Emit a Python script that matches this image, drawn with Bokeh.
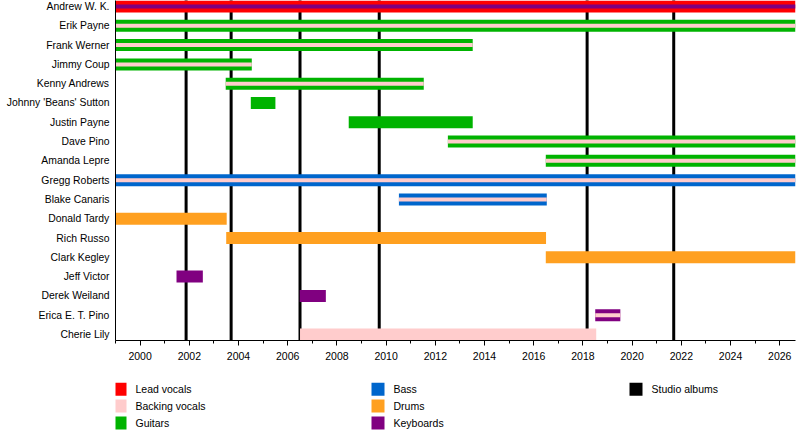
from bokeh.plotting import figure
from bokeh.models import Range1d, FixedTicker, SingleIntervalTicker
from bokeh.layouts import column
from bokeh.embed import file_html
from bokeh.resources import INLINE
from bokeh.core.properties import value

# ---------------- data ----------------
members = ["Andrew W. K.", "Erik Payne", "Frank Werner", "Jimmy Coup", "Kenny Andrews",
           "Johnny 'Beans' Sutton", "Justin Payne", "Dave Pino", "Amanda Lepre",
           "Gregg Roberts", "Blake Canaris", "Donald Tardy", "Rich Russo", "Clark Kegley",
           "Jeff Victor", "Derek Weiland", "Erica E. T. Pino", "Cherie Lily"]

roles = ["Lead vocals", "Backing vocals", "Guitars", "Bass", "Drums", "Keyboards", "Studio albums"]
role_colors = ["#FF0000", "#FFCCCC", "#00B300", "#0066CC", "#FFA020", "#800080", "#000000"]

timeline_start = 1999.0
timeline_end = 2026.64

bar_member = members[:]
bar_start = [1999.0, 1999.0, 1999.0, 1999.0, 2003.48, 2004.5, 2008.48, 2012.51, 2016.49,
             1999.0, 2010.52, 1999.0, 2003.5, 2016.49, 2001.48, 2006.49, 2018.5, 2006.5]
bar_end = [timeline_end, timeline_end, 2013.52, 2004.54, 2011.53, 2005.5, 2013.52, timeline_end,
           timeline_end, timeline_end, 2016.53, 2003.52, 2016.5, timeline_end, 2002.55, 2007.55,
           2019.52, 2018.54]
bar_role = ["Lead vocals", "Guitars", "Guitars", "Guitars", "Guitars", "Guitars", "Guitars",
            "Guitars", "Guitars", "Bass", "Bass", "Drums", "Drums", "Drums", "Keyboards",
            "Keyboards", "Keyboards", "Backing vocals"]
bar_second = ["Keyboards", "Backing vocals", "Backing vocals", "Backing vocals", "Backing vocals",
              None, None, "Backing vocals", "Backing vocals", "Backing vocals", "Backing vocals",
              None, None, None, None, None, "Backing vocals", None]

album_years = [2001.87, 2003.70, 2006.50, 2009.72, 2018.17, 2021.69]

# ---------------- layout ----------------
FONT = "Liberation Sans"
BH = 0.622
color_of = dict(zip(roles, role_colors))
n = len(members)
row_of = {m: i for i, m in enumerate(members)}

p = figure(width=800, height=370, output_backend="svg", toolbar_location=None,
           x_range=Range1d(timeline_start, timeline_end),
           y_range=Range1d(n - 1 + BH / 2, -BH / 2),
           min_border_left=115, min_border_right=5, min_border_top=0, min_border_bottom=30)
p.outline_line_color = None
p.xgrid.visible = False
p.ygrid.visible = False

# album lines (below bars)
p.segment(x0=album_years, x1=album_years, y0=[-1] * len(album_years), y1=[n] * len(album_years),
          line_color=color_of["Studio albums"], line_width=3)

ys = [row_of[m] for m in bar_member]
p.hbar(y=ys, left=bar_start, right=bar_end, height=BH,
       fill_color=[color_of[r] for r in bar_role], line_color=None)

sec_idx = [i for i, s in enumerate(bar_second) if s]
p.hbar(y=[ys[i] for i in sec_idx], left=[bar_start[i] for i in sec_idx],
       right=[bar_end[i] for i in sec_idx], height=BH / 3,
       fill_color=[color_of[bar_second[i]] for i in sec_idx], line_color=None)

# y axis
p.yaxis.ticker = FixedTicker(ticks=list(range(n)))
p.yaxis.major_label_overrides = {i: m for i, m in enumerate(members)}
p.yaxis.major_tick_line_color = None
p.yaxis.minor_tick_line_color = None
p.yaxis.major_tick_out = 0
p.yaxis.major_tick_in = 0
p.yaxis.axis_line_color = "#000000"
p.yaxis.major_label_standoff = 6
p.yaxis.major_label_text_font = FONT
p.yaxis.major_label_text_font_size = "10.4px"
p.yaxis.major_label_text_color = "#000000"

# x axis
p.xaxis.ticker = SingleIntervalTicker(interval=2, num_minor_ticks=2)
p.xaxis.major_tick_out = 5
p.xaxis.major_tick_in = 0
p.xaxis.minor_tick_out = 3
p.xaxis.minor_tick_in = 0
p.xaxis.major_tick_line_color = "#000000"
p.xaxis.minor_tick_line_color = "#000000"
p.xaxis.axis_line_color = "#000000"
p.xaxis.major_label_standoff = 6
p.xaxis.major_label_text_font = FONT
p.xaxis.major_label_text_font_size = "10.5px"
p.xaxis.major_label_text_color = "#000000"

# ---------------- legend ----------------
LH = 60
lg = figure(width=800, height=LH, output_backend="svg", toolbar_location=None,
            x_range=Range1d(115, 795), y_range=Range1d(LH, 0),
            x_axis_location=None, y_axis_location=None,
            min_border_left=115, min_border_right=5, min_border_top=0, min_border_bottom=0)
lg.outline_line_color = None
lg.xgrid.visible = False
lg.ygrid.visible = False

col_x = [113, 371, 629]
row_y = [18.7, 35.5, 52.5]
sq_x = [col_x[i // 3] + 6.5 for i in range(len(roles))]
sq_y = [row_y[i % 3] for i in range(len(roles))]
lg.rect(x=sq_x, y=sq_y, width=13, height=13, fill_color=role_colors, line_color=None)
lg.text(x=[col_x[i // 3] + 22 for i in range(len(roles))], y=sq_y, text=roles,
        text_font=value(FONT), text_font_size=value("10.5px"), text_color="#000000",
        text_baseline="middle", text_align="left")

layout = column(p, lg, spacing=0)
open("out.html", "w").write(file_html(layout, INLINE))
